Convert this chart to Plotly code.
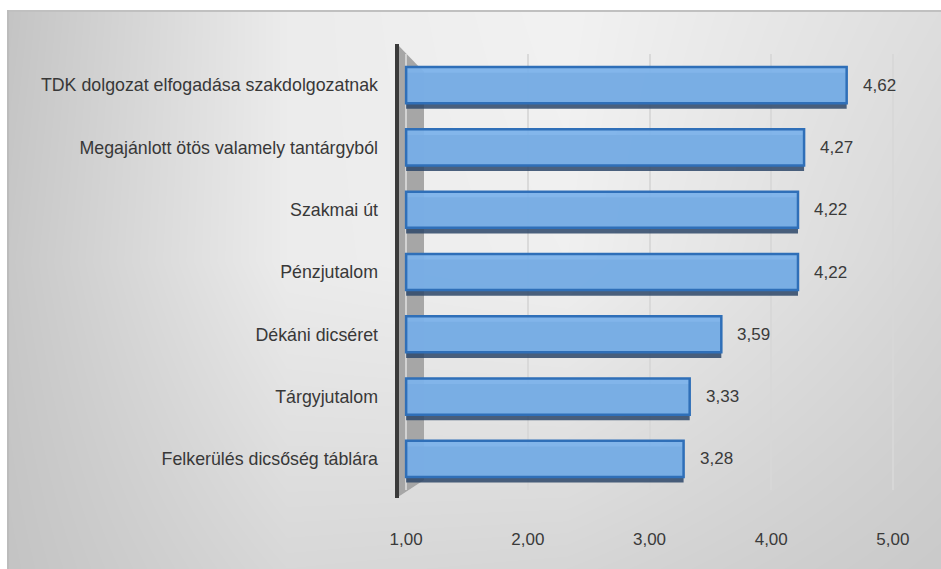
import base64, struct, zlib
import numpy as np
import plotly.graph_objects as go

# ---- data ----
categories = [
    "TDK dolgozat elfogadása szakdolgozatnak",
    "Megajánlott ötös valamely tantárgyból",
    "Szakmai út",
    "Pénzjutalom",
    "Dékáni dicséret",
    "Tárgyjutalom",
    "Felkerülés dicsőség táblára",
]
values = [4.62, 4.27, 4.22, 4.22, 3.59, 3.33, 3.28]
tick_vals = [1, 2, 3, 4, 5]
tick_labels = ["1,00", "2,00", "3,00", "4,00", "5,00"]
axis_base = 1.0
value_labels = [f"{v:.2f}".replace(".", ",") for v in values]

W, H = 941, 569


def px(x):
    """window pixel x -> paper fraction"""
    return x / W


def py(y):
    """window pixel y -> paper fraction"""
    return 1 - y / H


# ---- background gradient image (decoration) ----
def gradient_png(w, h):
    gx = [0.0, 0.3, 0.6, 1.0]
    gy = [0.0, 0.45, 1.0]
    cv = np.array([[196, 236, 242, 222],
                   [200, 236, 240, 214],
                   [196, 216, 214, 202]], dtype=float)
    xs = np.linspace(0, 1, w)
    ys = np.linspace(0, 1, h)
    rows = np.array([np.interp(xs, gx, r) for r in cv])
    img = np.empty((h, w))
    for j in range(w):
        img[:, j] = np.interp(ys, gy, rows[:, j])
    img[0:2, :] = 192
    img[:, 0:2] = 188
    img = img.clip(0, 255).astype(np.uint8)
    raw = b"".join(b"\x00" + img[r].tobytes() for r in range(h))

    def chunk(tag, data):
        c = struct.pack(">I", len(data)) + tag + data
        return c + struct.pack(">I", zlib.crc32(tag + data) & 0xFFFFFFFF)

    png = (b"\x89PNG\r\n\x1a\n"
           + chunk(b"IHDR", struct.pack(">IIBBBBB", w, h, 8, 0, 0, 0, 0))
           + chunk(b"IDAT", zlib.compress(raw, 9))
           + chunk(b"IEND", b""))
    return "data:image/png;base64," + base64.b64encode(png).decode()


bg_x0, bg_y0 = 7, 10
bg_w, bg_h = W - bg_x0, H - bg_y0
bg_src = gradient_png(bg_w, bg_h)

fig = go.Figure()

# shadow under bars (3D depth)
fig.add_trace(go.Bar(
    orientation="h", y=categories, x=[v - axis_base for v in values], base=axis_base,
    width=0.58, offset=-0.29 + 0.09,
    marker=dict(color="rgba(45,70,105,0.85)", line=dict(width=0)),
    hoverinfo="skip", showlegend=False,
))
# main bars
fig.add_trace(go.Bar(
    orientation="h", y=categories, x=[v - axis_base for v in values], base=axis_base,
    width=0.58, offset=-0.29,
    marker=dict(color="rgba(124,178,234,0.95)", line=dict(color="#2f6fb8", width=2.5)),
    customdata=value_labels,
    hovertemplate="%{y}: %{customdata}<extra></extra>",
    showlegend=False,
))

annotations = [
    dict(x=v, y=c, xref="x", yref="y", text=t, showarrow=False,
         xanchor="left", xshift=14, font=dict(size=17, color="#3a3a3a"))
    for v, c, t in zip(values, categories, value_labels)
]

shapes = [
    # grey left wall depth
    dict(type="path", xref="paper", yref="paper",
         path=f"M {px(398)},{py(45)} L {px(424)},{py(72)} L {px(424)},{py(480)} L {px(398)},{py(497)} Z",
         fillcolor="#a6a6a6", line=dict(width=0), layer="below"),
    # dark axis line
    dict(type="line", xref="paper", yref="paper",
         x0=px(397), x1=px(397), y0=py(44), y1=py(498),
         line=dict(color="#3a3a3a", width=4), layer="above"),
]

fig.update_layout(
    width=W, height=H, autosize=False,
    margin=dict(l=0, r=0, t=0, b=0, autoexpand=False),
    paper_bgcolor="white", plot_bgcolor="rgba(0,0,0,0)",
    barmode="overlay",
    font=dict(family="Liberation Sans, Arial, sans-serif", size=17, color="#262626"),
    images=[dict(source=bg_src, xref="paper", yref="paper",
                 x=px(bg_x0), y=py(bg_y0), sizex=bg_w / W, sizey=bg_h / H,
                 xanchor="left", yanchor="top", sizing="stretch", layer="below")],
    xaxis=dict(domain=[px(397), px(899)], range=[0.925, 5.05],
               tickmode="array", tickvals=tick_vals, ticktext=tick_labels,
               showgrid=True, gridcolor="rgba(215,215,215,0.9)", gridwidth=1.5,
               zeroline=False, showline=False, ticks="", automargin=False,
               ticklabelstandoff=37, tickfont=dict(size=17, color="#3a3a3a")),
    yaxis=dict(domain=[py(490), py(54)], autorange="reversed", automargin=False,
               type="category", showgrid=False, zeroline=False, showline=False,
               ticks="", ticklabelstandoff=18, tickfont=dict(size=17.8, color="#383838")),
    annotations=annotations,
    shapes=shapes,
)

fig.write_html("out.html",
               config={"displayModeBar": False, "responsive": False},
               post_script="document.body.style.margin='0px';")
